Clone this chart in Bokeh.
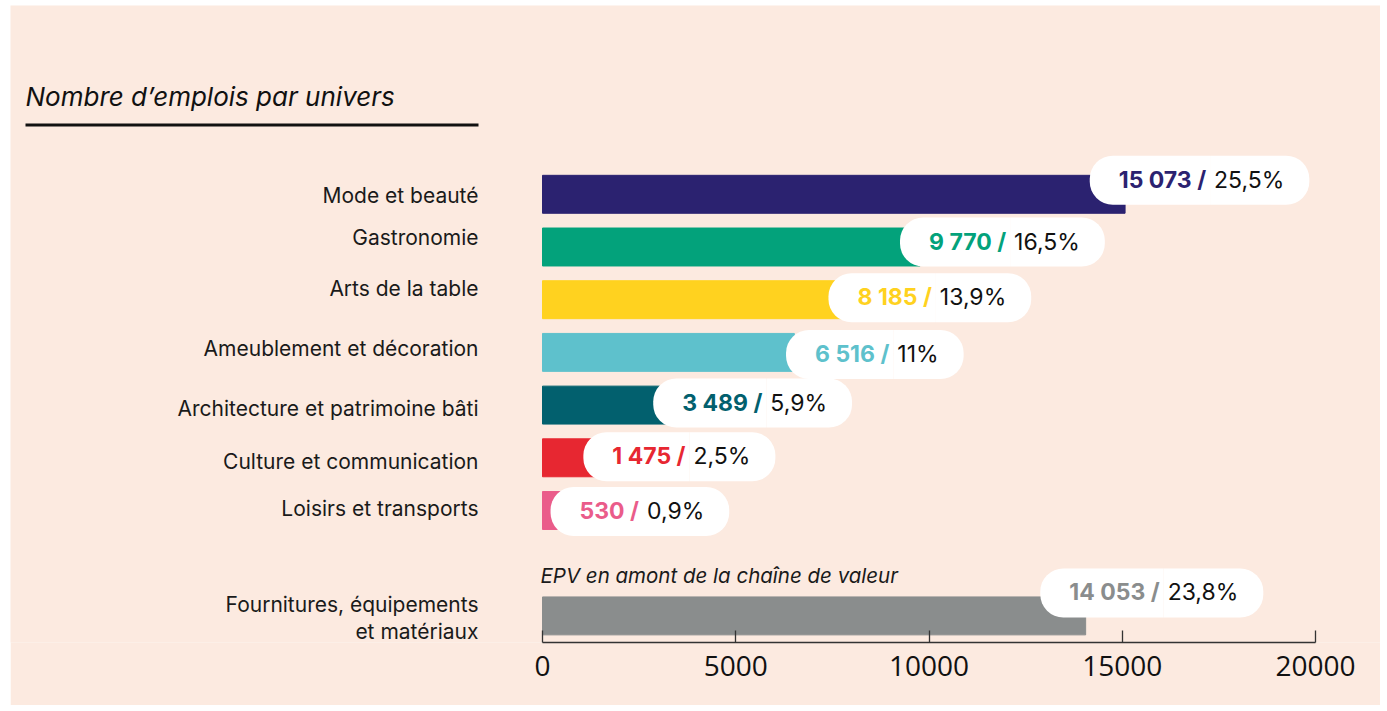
from bokeh.plotting import figure
from bokeh.models import Range1d, FixedTicker, Label, BoxAnnotation, ColumnDataSource
from bokeh.core.properties import value
from bokeh.embed import file_html
from bokeh.resources import INLINE

# ---------------- data ----------------
categories = [
    "Mode et beauté",
    "Gastronomie",
    "Arts de la table",
    "Ameublement et décoration",
    "Architecture et patrimoine bâti",
    "Culture et communication",
    "Loisirs et transports",
    "Fournitures, équipements\net matériaux",
]
jobs = [15073, 9770, 8185, 6516, 3489, 1475, 530, 14053]
shares = ["25,5%", "16,5%", "13,9%", "11%", "5,9%", "2,5%", "0,9%", "23,8%"]
colors = ["#2B2270", "#03A27B", "#FFD21F", "#5EC1CC", "#02606E", "#E72731", "#EA5C8A", "#8A8D8D"]
tick_values = [0, 5000, 10000, 15000, 20000]
title_text = "Nombre d’emplois par univers"
note_text = "EPV en amont de la chaîne de valeur"

# ---------------- layout ----------------
BG = "#FCEAE0"
W, H = 1370, 700
BOTTOM = 63
FRAME_H = H - BOTTOM
ZERO_PX = 532            # distance of value 0 from frame left
PX_PER_UNIT = 773 / 20000
PITCH = 52.7
FIRST_PX = 188.8         # centre of first bar from frame top

slots = list(range(7)) + [8]          # gap before the upstream category
split_px = [85, 90, 77, 99, 89, 90, 80, 78]    # pill split point after bar end
pill_dy = [-14, -5, -2, 2, -2, -1, 1, -23]
label_dy = [1, -10, -11, -4, 3, 4, -2, 2]

value_texts = [f"{v:,}".replace(",", " ") + " /" for v in jobs]

src = ColumnDataSource(dict(
    y=slots, right=jobs, color=colors, cat=categories,
    vtxt=value_texts, ptxt=shares, split=split_px, pdy=pill_dy, ldy=label_dy,
))

p = figure(
    width=W, height=H, output_backend="svg", toolbar_location=None,
    margin=(5, 0, 0, 10),
    x_range=Range1d(-ZERO_PX / PX_PER_UNIT, (W - ZERO_PX) / PX_PER_UNIT),
    y_range=Range1d((FRAME_H - FIRST_PX) / PITCH, -FIRST_PX / PITCH),
    y_axis_location=None, x_axis_location="below",
    min_border_left=0, min_border_right=0, min_border_top=0, min_border_bottom=BOTTOM,
    background_fill_color=BG, border_fill_color=BG, outline_line_color=None,
)
p.grid.visible = False

p.hbar(y="y", left=0, right="right", height=0.72, color="color", source=src)

FONT = value("Inter")

# category labels
p.text(x=0, y="y", text="cat", source=src, x_offset=-64, y_offset="ldy",
       text_align="right", text_baseline="middle", text_font=FONT,
       text_font_size="21px", text_color="#1A1A1A", text_line_height=1.05)

# pills: bold coloured value part
p.text(x="right", y="y", text="vtxt", source=src, x_offset="split", y_offset="pdy",
       text_align="right", text_baseline="middle", text_font=FONT,
       text_font_size="23px", text_font_style="bold", text_color="color",
       background_fill_color="white",
       padding=dict(left=29, right=4, top=10, bottom=11),
       border_radius=dict(top_left=23, top_right=0, bottom_right=0, bottom_left=23))
# pills: share part
p.text(x="right", y="y", text="ptxt", source=src, x_offset="split", y_offset="pdy",
       text_align="left", text_baseline="middle", text_font=FONT,
       text_font_size="23px", text_color="#111111",
       background_fill_color="white",
       padding=dict(left=4, right=25, top=10, bottom=11),
       border_radius=dict(top_left=0, top_right=23, bottom_right=23, bottom_left=0))

# note above upstream bar
p.text(x=[0], y=[slots[-1]], text=[note_text], x_offset=-2, y_offset=-40,
       text_align="left", text_baseline="middle", text_font=FONT,
       text_font_size="20.5px", text_font_style="italic", text_color="#1A1A1A")

# title + rule
p.add_layout(Label(x=15, y=FRAME_H - 91, x_units="screen", y_units="screen",
                   text=title_text, text_font="Inter", text_font_size="26px",
                   text_font_style="italic", text_color="#111111",
                   text_baseline="alphabetic", text_align="left"))
p.add_layout(BoxAnnotation(left=15, right=468, bottom=FRAME_H - 121, top=FRAME_H - 118,
                           left_units="screen", right_units="screen",
                           bottom_units="screen", top_units="screen",
                           fill_color="#111111", fill_alpha=1, line_color=None))

ax = p.xaxis[0]
ax.ticker = FixedTicker(ticks=tick_values)
ax.bounds = (0, 20000)
ax.major_tick_in = 12
ax.major_tick_out = 0
ax.minor_tick_line_color = None
ax.axis_line_color = "#333333"
ax.axis_line_width = 1.3
ax.major_tick_line_color = "#333333"
ax.major_tick_line_width = 1.3
ax.major_label_text_font = "Open Sans"
ax.major_label_text_font_size = "28px"
ax.major_label_text_color = "#111111"
ax.major_label_standoff = 13

open("out.html", "w").write(file_html(p, INLINE))
